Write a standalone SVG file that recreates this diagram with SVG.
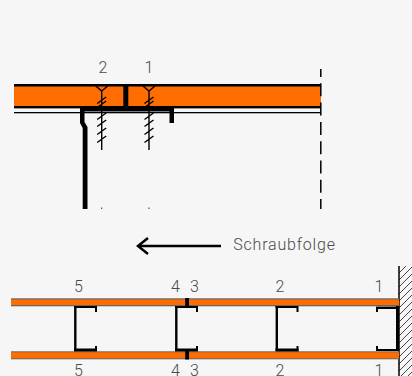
<svg xmlns="http://www.w3.org/2000/svg" width="412" height="376" viewBox="0 0 412 376">
<style>
text{font-family:"Roboto","Noto Sans","Liberation Sans",sans-serif;font-size:16px;font-weight:300;fill:#4a4a4a;text-anchor:middle}
.panel{fill:#ff6c00}
.k{stroke:#000;fill:none}
</style>
<defs>
<g id="screw" class="k" stroke-width="1.400">
<path d="M0 91V150M-6 86L0 91L6 86M-4.500 103.500L4.500 97M-4.500 107.500L4.500 101M-4.500 119.500L4.500 113M-4.500 126.500L4.500 120M-4.500 134.500L4.500 128M-4.500 142.500L4.500 136"/>
</g>
<g id="stud" class="k">
<path stroke-width="2.400" d="M1.300 0V45"/>
<path stroke-width="2" d="M0 1H23M22 1V6"/>
<path stroke-width="3" d="M0 44H23"/>
<path stroke-width="2" d="M22 45V40"/>
</g>
<pattern id="hatch" width="7" height="7" patternUnits="userSpaceOnUse">
<path d="M-1 8L8 -1" stroke="#333" stroke-width="0.900"/>
</pattern>
</defs>
<rect width="412" height="376" fill="#f6f6f6"/>
<g id="top-slab">
<rect x="14" y="84" width="307" height="25" fill="#000"/>
<rect class="panel" x="14" y="86.500" width="307" height="19.500"/>
<rect x="14" y="108" width="307" height="1" fill="#999"/>
<rect x="14" y="112" width="307" height="1.300" fill="#000"/>
</g>
<g id="screw-2"><use href="#screw" x="101.700"/><rect x="101.200" y="207.500" width="1" height="1.500" fill="#333"/></g>
<g id="screw-1"><use href="#screw" x="149"/><rect x="148.500" y="207.500" width="1" height="1.500" fill="#333"/></g>
<g id="top-stud">
<path fill="#000" d="M80 106.500H174V123H169.500V111.500H84.500V122L87.500 127V209H82.700V128L80 123Z"/>
<rect x="123.300" y="84" width="5" height="23" fill="#000"/>
</g>
<g id="cut-line"><path class="k" stroke-width="1.500" stroke-dasharray="13 6.300" stroke-dashoffset="5" d="M320.800 69V209"/></g>
<g id="direction">
<path class="k" stroke-width="2.500" d="M221 246H139"/>
<path class="k" stroke-width="2.500" d="M148 238L138 246L148 254"/>
<text x="284.500" y="250" style="letter-spacing:.8px">Schraubfolge</text>
</g>
<g id="wall">
<rect x="399" y="266" width="13" height="110" fill="url(#hatch)"/>
<path class="k" stroke-width="1.500" d="M399 266V376"/>
</g>
<g id="panels">
<rect x="11" y="298.300" width="388" height="8" fill="#666"/>
<rect class="panel" x="11" y="299.500" width="388" height="5.500"/>
<rect x="11" y="351.300" width="388" height="8" fill="#666"/>
<rect class="panel" x="11" y="352.300" width="388" height="6"/>
</g>
<g id="studs">
<use href="#stud" x="74" y="306"/>
<use href="#stud" x="175" y="306"/>
<use href="#stud" x="275.500" y="306"/>
<g class="k">
<path stroke-width="2.400" d="M376 307.800H399"/>
<path stroke-width="2" d="M377 307V312"/>
<path stroke-width="2" d="M376 350H399M377 351V346"/>
<path stroke-width="3" d="M397.500 306V351"/>
</g>
<rect x="185.200" y="298" width="3.800" height="9" fill="#000"/>
<rect x="185.200" y="350" width="3.800" height="9.500" fill="#000"/>
</g>
<g id="labels">
<text x="103" y="73">2</text>
<text x="149" y="73">1</text>
<text x="78.500" y="292">5</text>
<text x="175.500" y="292">4</text>
<text x="194.500" y="292">3</text>
<text x="280" y="292">2</text>
<text x="379" y="292">1</text>
<text x="78.500" y="376">5</text>
<text x="175.500" y="376">4</text>
<text x="194.500" y="376">3</text>
<text x="280" y="376">2</text>
<text x="379" y="376">1</text>
</g>
</svg>
